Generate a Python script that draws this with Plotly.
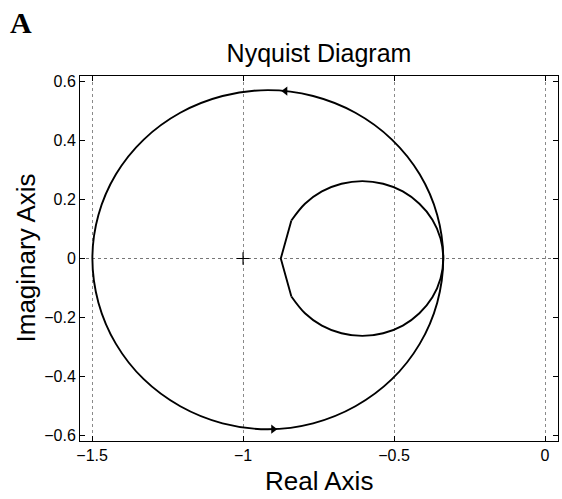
import plotly.graph_objects as go

# ---- data ----
# large loop (counter-clockwise from the right-hand crossing)
big_re = [-0.337, -0.357, -0.415, -0.507, -0.628, -0.768, -0.918, -1.068, -1.208, -1.329,
          -1.421, -1.479, -1.499,
          -1.479, -1.421, -1.329, -1.208, -1.068, -0.918, -0.768, -0.628, -0.507, -0.415,
          -0.357, -0.337]
big_im = [0.000, 0.148, 0.286, 0.404, 0.495, 0.552, 0.572, 0.552, 0.495, 0.404,
          0.286, 0.148, 0.000,
          -0.150, -0.290, -0.410, -0.502, -0.560, -0.580, -0.560, -0.502, -0.410, -0.290,
          -0.150, 0.000]

# small loop: starts at the upper corner, runs over the top and round to the lower corner,
# then the coarse straight section through the left-hand tip
small_re = [-0.840, -0.795, -0.739, -0.674, -0.605, -0.536, -0.471, -0.416, -0.373, -0.346,
            -0.337,
            -0.346, -0.373, -0.416, -0.471, -0.536, -0.605, -0.674, -0.739, -0.795, -0.840,
            -0.875, -0.840]
small_im = [0.129, 0.186, 0.228, 0.254, 0.263, 0.254, 0.228, 0.186, 0.132, 0.068,
            0.000,
            -0.068, -0.132, -0.186, -0.228, -0.254, -0.263, -0.254, -0.228, -0.186, -0.129,
            0.000, 0.129]
SMOOTH_END = 21  # points of the small loop drawn as a smooth arc

# direction arrows on the large loop
arrow_re = [-0.86, -0.90]
arrow_im = [0.569, -0.580]
arrow_dir = ["triangle-left", "triangle-right"]

# critical point (-1, 0)
crit_re = [-1.0]
crit_im = [0.0]

x_ticks = [-1.5, -1.0, -0.5, 0.0]
x_tick_text = ["\u22121.5", "\u22121", "\u22120.5", "0"]
y_ticks = [-0.6, -0.4, -0.2, 0.0, 0.2, 0.4, 0.6]
y_tick_text = ["\u22120.6", "\u22120.4", "\u22120.2", "0", "0.2", "0.4", "0.6"]

SANS = "Liberation Sans, Arial, Helvetica, sans-serif"
LINE = dict(color="black", width=1.9)

fig = go.Figure()
fig.add_trace(go.Scatter(x=big_re, y=big_im, mode="lines",
                         line=dict(**LINE, shape="spline"), hoverinfo="skip"))
fig.add_trace(go.Scatter(x=small_re[:SMOOTH_END], y=small_im[:SMOOTH_END], mode="lines",
                         line=dict(**LINE, shape="spline"), hoverinfo="skip"))
fig.add_trace(go.Scatter(x=small_re[SMOOTH_END - 1:], y=small_im[SMOOTH_END - 1:],
                         mode="lines", line=dict(**LINE), hoverinfo="skip"))
fig.add_trace(go.Scatter(x=arrow_re, y=arrow_im, mode="markers",
                         marker=dict(symbol=arrow_dir, size=8, color="black"),
                         hoverinfo="skip"))
fig.add_trace(go.Scatter(x=crit_re, y=crit_im, mode="markers",
                         marker=dict(symbol="cross-thin", size=9,
                                     line=dict(color="black", width=1.2)),
                         hoverinfo="skip"))

# dotted real-axis line at y = 0
fig.add_shape(type="line", xref="paper", x0=0, x1=1, yref="y", y0=0, y1=0,
              line=dict(color="#777777", width=1, dash="dot"), layer="below")

axis_common = dict(ticks="inside", ticklen=5, tickcolor="black", tickwidth=1,
                   showline=True, linecolor="black", linewidth=1, mirror="ticks",
                   zeroline=False, tickfont=dict(family=SANS, size=16, color="black"))

fig.update_layout(
    width=562, height=499, autosize=False,
    margin=dict(l=80, r=4, t=76, b=58),
    paper_bgcolor="white", plot_bgcolor="white",
    showlegend=False,
    title=dict(text="Nyquist Diagram", x=0.5, xref="paper", xanchor="center",
               y=1 - 53 / 499, yref="container", yanchor="middle",
               font=dict(family=SANS, size=25, color="black")),
    xaxis=dict(range=[-1.54, 0.043], tickvals=x_ticks, ticktext=x_tick_text,
               showgrid=True, gridcolor="#8a8a8a", gridwidth=1, griddash="dot",
               **axis_common),
    yaxis=dict(range=[-0.62, 0.62], tickvals=y_ticks, ticktext=y_tick_text,
               showgrid=False, **axis_common),
    annotations=[
        dict(text="Real Axis", xref="paper", yref="paper", x=0.5, y=-(481 - 441) / 365,
             xanchor="center", yanchor="middle", showarrow=False,
             font=dict(family=SANS, size=26, color="black")),
        dict(text="Imaginary Axis", xref="paper", yref="paper", x=(25 - 80) / 478, y=0.5,
             xanchor="center", yanchor="middle", textangle=-90, showarrow=False,
             font=dict(family=SANS, size=26, color="black")),
        dict(text="<b>A</b>", xref="paper", yref="paper", x=(8 - 80) / 478,
             y=(441 - 4) / 365, xanchor="left", yanchor="top", showarrow=False,
             font=dict(family="Liberation Serif, Times New Roman, serif", size=30,
                       color="black")),
    ],
)

fig.write_html("out.html")
